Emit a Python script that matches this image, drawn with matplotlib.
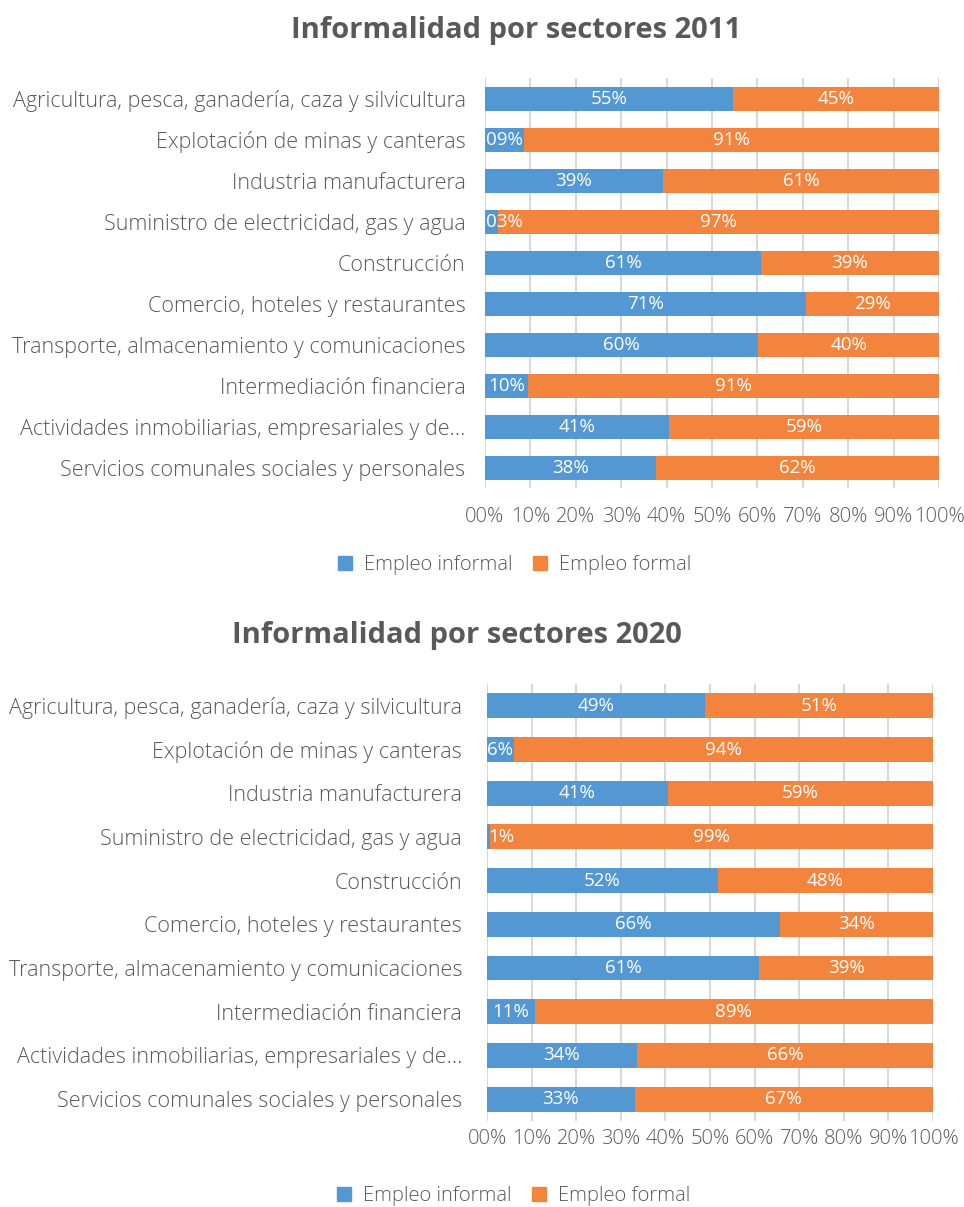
import matplotlib
matplotlib.use("Agg")
import matplotlib.pyplot as plt
from matplotlib.patches import Patch
from matplotlib.ticker import FixedLocator, FuncFormatter

categories = [
    "Agricultura, pesca, ganadería, caza y silvicultura",
    "Explotación de minas y canteras",
    "Industria manufacturera",
    "Suministro de electricidad, gas y agua",
    "Construcción",
    "Comercio, hoteles y restaurantes",
    "Transporte, almacenamiento y comunicaciones",
    "Intermediación financiera",
    "Actividades inmobiliarias, empresariales y de...",
    "Servicios comunales sociales y personales",
]
informal_2011 = [54.6, 8.7, 39.2, 2.9, 60.8, 70.6, 60.2, 9.6, 40.6, 37.6]
formal_2011 = [45.4, 91.3, 60.8, 97.1, 39.2, 29.4, 39.8, 90.6, 59.4, 62.4]
informal_2020 = [48.9, 6.0, 40.6, 0.7, 51.7, 65.6, 61.0, 10.7, 33.6, 33.1]
formal_2020 = [51.1, 94.0, 59.4, 99.3, 48.3, 34.4, 39.0, 89.3, 66.4, 66.9]
series_names = ["Empleo informal", "Empleo formal"]
tick_values = [0, 10, 20, 30, 40, 50, 60, 70, 80, 90, 100]

BLUE = "#5397D3"
ORANGE = "#F2843D"
GRAY = "#595959"
GRID = "#D9D9D9"
FONT = "Open Sans"

fig = plt.figure(figsize=(9.64, 12.07), dpi=100)
all_labels = []


def draw(ax, informal, formal, label_fmt, xpad, ypad):
    n = len(categories)
    ys = list(range(n))
    inf_pct = [i / (i + f) * 100 for i, f in zip(informal, formal)]
    for_pct = [f / (i + f) * 100 for i, f in zip(informal, formal)]
    ax.barh(ys, inf_pct, height=0.57, color=BLUE, zorder=3)
    ax.barh(ys, for_pct, left=inf_pct, height=0.57, color=ORANGE, zorder=3)
    for y, v, w in zip(ys, informal, inf_pct):
        t = ax.text(w / 2, y, label_fmt(v), ha="center", va="center",
                    color="white", fontsize=13.5, family=FONT, zorder=4)
        all_labels.append((ax, t))
    for y, v, l, w in zip(ys, formal, inf_pct, for_pct):
        t = ax.text(l + w / 2, y, label_fmt(v), ha="center", va="center",
                    color="white", fontsize=13.5, family=FONT, zorder=4)
        all_labels.append((ax, t))
    ax.set_xlim(0, 100)
    ax.set_ylim(n - 0.5, -0.5)
    ax.set_yticks(ys)
    ax.set_yticklabels(categories, fontsize=15.5, color=GRAY, family=FONT,
                       fontweight="light")
    ax.xaxis.set_major_locator(FixedLocator(tick_values))
    ax.xaxis.set_major_formatter(FuncFormatter(lambda v, p: f"{int(round(v)):02d}%"))
    for lab in ax.get_xticklabels():
        lab.set_fontsize(14.5)
        lab.set_color(GRAY)
        lab.set_family(FONT)
        lab.set_fontweight("light")
    ax.tick_params(axis="both", length=0)
    ax.tick_params(axis="x", pad=xpad)
    ax.tick_params(axis="y", pad=ypad)
    ax.grid(axis="x", color=GRID, linewidth=1.5, zorder=0)
    for s in ax.spines.values():
        s.set_visible(False)
    ax.set_axisbelow(True)


fmt2011 = lambda v: f"{int(round(v)):02d}%"
fmt2020 = lambda v: f"{int(round(v))}%"

ax1 = fig.add_axes([0.5031, 0.5953, 0.4710, 0.3397])
draw(ax1, informal_2011, formal_2011, fmt2011, 13, 14)
ax2 = fig.add_axes([0.5052, 0.0713, 0.4627, 0.3620])
draw(ax2, informal_2020, formal_2020, fmt2020, 6, 18)

# keep data labels inside the plot area (as the spreadsheet does)
fig.canvas.draw()
renderer = fig.canvas.get_renderer()
for ax, t in all_labels:
    bb = t.get_window_extent(renderer)
    axbb = ax.get_window_extent(renderer)
    if bb.x0 < axbb.x0:
        shift = (axbb.x0 - bb.x0 + 1) / axbb.width * 100
        x, y = t.get_position()
        t.set_position((x + shift, y))

fig.text(0.535, 0.975, "Informalidad por sectores 2011", ha="center", va="center",
         fontsize=21, fontweight="bold", color=GRAY, family=FONT)
fig.text(0.474, 0.4735, "Informalidad por sectores 2020", ha="center", va="center",
         fontsize=21, fontweight="bold", color=GRAY, family=FONT)

handles = [Patch(color=BLUE), Patch(color=ORANGE)]
for ypos, xpos in [(0.532, 0.534), (0.009, 0.533)]:
    fig.legend(handles, series_names, loc="center", bbox_to_anchor=(xpos, ypos),
               ncol=2, frameon=False, handlelength=0.7, handleheight=0.7,
               columnspacing=1.0, handletextpad=0.6,
               prop={"family": FONT, "size": 14.5, "weight": "light"}, labelcolor=GRAY)

fig.savefig("out.png", dpi=100, facecolor="white")
